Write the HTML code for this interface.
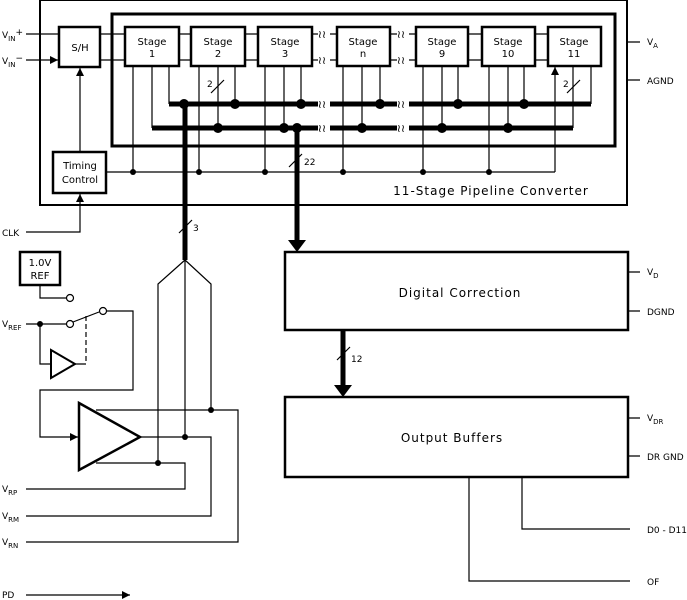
<!DOCTYPE html>
<html><head><meta charset="utf-8"><style>
html,body{margin:0;padding:0;background:#fff}
svg{display:block}
text{font-family:"DejaVu Sans","Liberation Sans",sans-serif;fill:#000}
</style></head><body>
<svg width="687" height="600" viewBox="0 0 687 600" xmlns="http://www.w3.org/2000/svg">
<defs>
<marker id="a" viewBox="0 0 10 10" refX="10" refY="5" markerWidth="8" markerHeight="8" orient="auto" markerUnits="userSpaceOnUse"><path d="M0,0L10,5L0,10z" fill="#000"/></marker>
</defs>
<g fill="none" stroke="#000">
<!-- outer box -->
<rect x="40" y="0" width="587" height="205" stroke-width="2"/>
<rect x="112" y="14" width="503" height="132" stroke-width="3"/>
<!-- S/H -->
<rect x="59" y="27" width="41" height="40" stroke-width="2.5"/>
<!-- stages -->
<rect x="125" y="27" width="54" height="39" stroke-width="2.5"/>
<rect x="191" y="27" width="54" height="39" stroke-width="2.5"/>
<rect x="258" y="27" width="54" height="39" stroke-width="2.5"/>
<rect x="337" y="27" width="53" height="39" stroke-width="2.5"/>
<rect x="416" y="27" width="52" height="39" stroke-width="2.5"/>
<rect x="482" y="27" width="53" height="39" stroke-width="2.5"/>
<rect x="548" y="27" width="53" height="39" stroke-width="2.5"/>
<!-- signal lines between stages -->
<g stroke-width="1.2">
<path d="M26,34H58M26,60H58" marker-end="url(#a)"/>
<path d="M100,34H125M100,60H125M179,34H191M179,60H191M245,34H258M245,60H258M312,34H337M312,60H337M390,34H416M390,60H416M468,34H482M468,60H482M535,34H548M535,60H548"/>
<!-- stage down lines -->
<path d="M152,66V128M169,66V104M218,66V128M235,66V104M284,66V128M301,66V104M362,66V128M380,66V104M442,66V128M458,66V104M508,66V128M524,66V104M573,66V128M591,66V104"/>
<!-- timing arrows -->
<path d="M133,172V67M199,172V67M265,172V67M343,172V67M423,172V67M489,172V67M555,172V67" marker-end="url(#a)"/>
<path d="M107,172H555"/>
<path d="M80,152V68" marker-end="url(#a)"/>
<path d="M26,232H80V194" marker-end="url(#a)"/>
<!-- bus slashes -->
<path d="M211,93L224,80M567,93L580,80M289,167L302,154M179,233L192,220M337,360L350,347"/>
<!-- supply ticks -->
<path d="M627,42H640M627,80H640M628,272H640M628,311H640M628,418H640M628,456H640"/>
<path d="M522,477V529H630M469,477V581H630"/>
<path d="M26,595H130" marker-end="url(#a)"/>
</g>
<!-- thick buses -->
<path d="M169,104H591M152,128H573" stroke-width="5"/>
<path d="M185,104V260" stroke-width="5"/>
<path d="M297,128V240" stroke-width="5"/>
<path d="M343,330V385" stroke-width="5"/>
<rect x="53" y="152" width="53" height="41" stroke-width="2.5"/>
<!-- digital blocks -->
<rect x="285" y="252" width="343" height="78" stroke-width="2.5"/>
<rect x="285" y="397" width="343" height="80" stroke-width="2.5"/>
<!-- ref section -->
<rect x="20" y="252" width="40" height="33" stroke-width="2.5"/>
<g stroke-width="1.2">
<path d="M40,285V298H66"/>
<circle cx="70" cy="298" r="3.5" fill="#fff"/>
<path d="M26,324H66"/>
<circle cx="70" cy="324" r="3.5" fill="#fff"/>
<path d="M73,322L99,312"/>
<circle cx="103" cy="311" r="3.5" fill="#fff"/>
<path d="M106,311H133V390H40V437H78" marker-end="url(#a)"/>
<path d="M86,316V364" stroke-dasharray="5,3"/>
<path d="M40,324V364H51M75,364H86"/>
<path d="M51,350L75,364L51,378Z" stroke-width="2"/>
<path d="M79,403L140,437L79,470Z" stroke-width="2.5"/>
<path d="M96,410H238V542H26M140,437H211V516H26M96,463H185V489H26"/>
<path d="M185,260V437M185,260L158,284V463M185,260L211,284V410"/>
</g>
</g>
<path d="M297,252L288,240H306Z"/>
<path d="M343,397L334,385H352Z"/>
<g fill="#000">
<circle cx="184" cy="104" r="5"/><circle cx="235" cy="104" r="5"/><circle cx="301" cy="104" r="5"/><circle cx="380" cy="104" r="5"/><circle cx="458" cy="104" r="5"/><circle cx="524" cy="104" r="5"/>
<circle cx="218" cy="128" r="5"/><circle cx="284" cy="128" r="5"/><circle cx="297" cy="128" r="5"/><circle cx="362" cy="128" r="5"/><circle cx="442" cy="128" r="5"/><circle cx="508" cy="128" r="5"/>
<circle cx="133" cy="172" r="3"/><circle cx="199" cy="172" r="3"/><circle cx="265" cy="172" r="3"/><circle cx="343" cy="172" r="3"/><circle cx="423" cy="172" r="3"/><circle cx="489" cy="172" r="3"/>
<circle cx="40" cy="324" r="3"/><circle cx="211" cy="410" r="3"/><circle cx="185" cy="437" r="3"/><circle cx="158" cy="463" r="3"/>
</g>
<!-- breaks -->
<g fill="#fff" stroke="none">
<rect x="318" y="30" width="12" height="8"/><rect x="318" y="56" width="12" height="8"/><rect x="318" y="99" width="12" height="10"/><rect x="318" y="123" width="12" height="10"/>
<rect x="397" y="30" width="12" height="8"/><rect x="397" y="56" width="12" height="8"/><rect x="397" y="99" width="12" height="10"/><rect x="397" y="123" width="12" height="10"/>
</g>
<g font-size="11" text-anchor="middle">
<text x="322" y="38">≀≀</text><text x="322" y="64">≀≀</text><text x="322" y="108">≀≀</text><text x="322" y="132">≀≀</text>
<text x="401" y="38">≀≀</text><text x="401" y="64">≀≀</text><text x="401" y="108">≀≀</text><text x="401" y="132">≀≀</text>
</g>
<g font-size="10" text-anchor="middle">
<text x="80" y="51">S/H</text>
<text x="152" y="45">Stage</text><text x="152" y="57">1</text>
<text x="218" y="45">Stage</text><text x="218" y="57">2</text>
<text x="285" y="45">Stage</text><text x="285" y="57">3</text>
<text x="363" y="45">Stage</text><text x="363" y="57">n</text>
<text x="442" y="45">Stage</text><text x="442" y="57">9</text>
<text x="508" y="45">Stage</text><text x="508" y="57">10</text>
<text x="574" y="45">Stage</text><text x="574" y="57">11</text>
<text x="80" y="169">Timing</text><text x="80" y="183">Control</text>
<text x="40" y="266">1.0V</text><text x="40" y="279">REF</text>
</g>
<g font-size="9">
<text x="207" y="87">2</text><text x="563" y="87">2</text>
<text x="304" y="165">22</text><text x="193" y="231">3</text><text x="351" y="362">12</text>
<text x="2" y="38">V<tspan font-size="7" dy="3">IN</tspan><tspan dy="-6">+</tspan></text>
<text x="2" y="64">V<tspan font-size="7" dy="3">IN</tspan><tspan dy="-6">−</tspan></text>
<text x="2" y="236">CLK</text>
<text x="2" y="327">V<tspan font-size="7" dy="3">REF</tspan></text>
<text x="2" y="492">V<tspan font-size="7" dy="3">RP</tspan></text>
<text x="2" y="519">V<tspan font-size="7" dy="3">RM</tspan></text>
<text x="2" y="545">V<tspan font-size="7" dy="3">RN</tspan></text>
<text x="2" y="598">PD</text>
<text x="647" y="45">V<tspan font-size="7" dy="3">A</tspan></text>
<text x="647" y="84">AGND</text>
<text x="647" y="275">V<tspan font-size="7" dy="3">D</tspan></text>
<text x="647" y="315">DGND</text>
<text x="647" y="421">V<tspan font-size="7" dy="3">DR</tspan></text>
<text x="647" y="460">DR GND</text>
<text x="647" y="533">D0 - D11</text>
<text x="647" y="585">OF</text>
</g>
<g font-size="12" text-anchor="middle" letter-spacing="1">
<text x="491" y="195">11-Stage Pipeline Converter</text>
<text x="460" y="297">Digital Correction</text>
<text x="452" y="442">Output Buffers</text>
</g>
</svg>
</body></html>
